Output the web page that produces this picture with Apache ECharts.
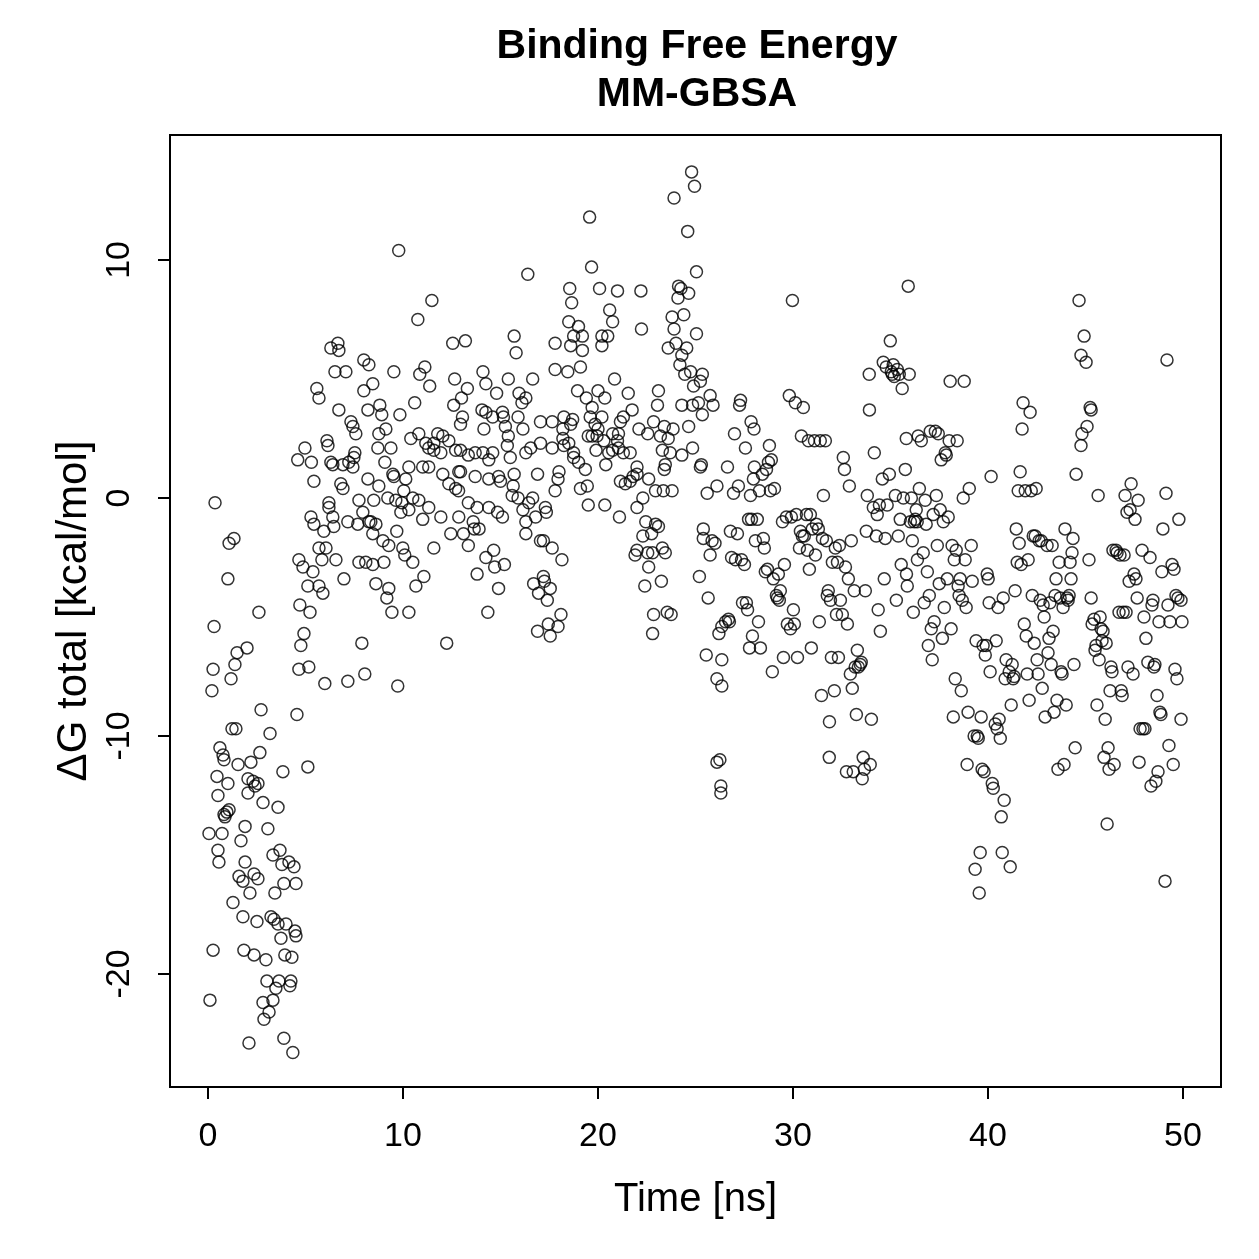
<!DOCTYPE html>
<html>
<head>
<meta charset="utf-8">
<script src="https://cdn.jsdelivr.net/npm/echarts@6/dist/echarts.min.js"></script>
<style>
  html, body { margin: 0; padding: 0; background: #fff; }
  #chart { width: 1259px; height: 1259px; }
</style>
</head>
<body>
<div id="chart"></div>
<script>
// tick positions (R style axes)
const xTicks = [0, 10, 20, 30, 40, 50];
const yTicks = [-20, -10, 0, 10];

// [time ns, dG total kcal/mol]
const seg00to05 = [[0.05,-14.1],[0.1,-21.1],[0.2,-8.1],[0.26,-7.2],[0.26,-19.0],[0.31,-5.4],[0.36,-0.2],[0.46,-11.7],[0.51,-12.5],[0.51,-14.8],[0.56,-15.3],[0.61,-10.5],[0.72,-14.1],[0.77,-10.8],[0.82,-11.0],[0.82,-13.3],[0.87,-13.4],[0.97,-13.2],[1.02,-3.4],[1.02,-12.0],[1.08,-1.9],[1.08,-13.1],[1.18,-7.6],[1.23,-9.7],[1.28,-17.0],[1.33,-1.7],[1.38,-7.0],[1.43,-9.7],[1.49,-6.5],[1.54,-11.2],[1.59,-15.9],[1.69,-14.4],[1.79,-16.1],[1.79,-17.6],[1.84,-19.0],[1.9,-13.8],[1.9,-15.3],[2.0,-6.3],[2.05,-11.8],[2.05,-12.4],[2.1,-22.9],[2.15,-16.6],[2.2,-11.1],[2.31,-11.9],[2.36,-15.8],[2.36,-19.2],[2.41,-12.1],[2.51,-17.8],[2.56,-12.0],[2.56,-16.0],[2.61,-4.8],[2.66,-10.7],[2.72,-8.9],[2.82,-12.8],[2.82,-21.2],[2.87,-21.9],[2.97,-19.4],[3.02,-20.3],[3.07,-13.9],[3.13,-21.6],[3.18,-9.9],[3.23,-17.6],[3.33,-15.0],[3.33,-21.1],[3.38,-17.7],[3.43,-16.6],[3.48,-20.6],[3.59,-13.0],[3.59,-17.9],[3.64,-20.3],[3.69,-14.8],[3.74,-18.5],[3.79,-15.4],[3.84,-11.5],[3.89,-16.2],[3.89,-22.7],[3.94,-19.2],[4.0,-17.9],[4.15,-15.3],[4.2,-20.5],[4.25,-20.3],[4.3,-19.3],[4.35,-23.3],[4.41,-15.5],[4.46,-18.2],[4.51,-16.2],[4.51,-18.4],[4.56,-9.1],[4.6,1.6],[4.66,-2.6],[4.66,-7.2],[4.71,-4.5],[4.76,-6.2],[4.87,-2.9],[4.92,-5.7],[4.97,2.1]];

const seg05to13 = [[5.12,-3.7],[5.12,-11.3],[5.17,-7.1],[5.23,-4.8],[5.28,-0.8],[5.3,1.5],[5.38,-3.1],[5.43,-1.1],[5.43,0.7],[5.58,4.6],[5.69,4.2],[5.69,-2.1],[5.69,-3.7],[5.84,-2.6],[5.89,-4.0],[5.94,-1.4],[5.99,-7.8],[6.05,-2.1],[6.1,2.4],[6.15,2.2],[6.2,-0.4],[6.2,-0.2],[6.3,6.3],[6.3,1.5],[6.4,-0.8],[6.4,1.4],[6.45,-1.2],[6.51,5.3],[6.56,-2.6],[6.66,6.5],[6.71,6.2],[6.71,3.7],[6.81,0.6],[6.92,0.4],[6.92,1.4],[6.97,-3.4],[7.07,5.3],[7.17,-7.7],[7.17,-1.0],[7.22,1.5],[7.33,3.2],[7.43,3.0],[7.43,1.3],[7.48,1.7],[7.53,1.9],[7.58,2.7],[7.68,-1.1],[7.74,-2.7],[7.74,-0.1],[7.89,-6.1],[7.94,-0.6],[7.99,5.8],[7.99,4.5],[8.04,-7.4],[8.09,-2.7],[8.2,0.8],[8.2,3.7],[8.25,5.6],[8.25,-1.0],[8.35,-1.0],[8.45,4.8],[8.45,-2.8],[8.45,-1.5],[8.5,-0.1],[8.61,-3.6],[8.61,-1.1],[8.71,2.1],[8.76,0.5],[8.76,2.7],[8.81,3.9],[8.91,3.5],[8.97,-1.8],[9.02,-2.7],[9.07,1.5],[9.12,2.9],[9.17,-4.2],[9.22,0.0],[9.27,-3.8],[9.27,-2.0],[9.38,2.1],[9.43,-4.8],[9.48,1.0],[9.53,0.9],[9.53,5.3],[9.63,-0.1],[9.68,-1.4],[9.73,-7.9],[9.78,10.4],[9.84,3.5],[9.89,-0.6],[9.94,-0.2],[9.99,-2.1],[10.04,0.3],[10.09,-2.4],[10.14,0.8],[10.3,1.3],[10.3,-0.5],[10.3,-4.8],[10.4,2.5],[10.5,0.0],[10.5,-2.7],[10.6,4.0],[10.66,-3.7],[10.76,7.5],[10.81,-0.1],[10.81,2.7],[10.86,5.2],[11.01,1.3],[11.01,-0.9],[11.07,-3.3],[11.12,5.5],[11.17,2.3],[11.32,2.1],[11.32,1.3],[11.32,-0.4],[11.37,4.7],[11.48,8.3],[11.58,-2.1],[11.58,2.3],[11.58,2.0],[11.78,2.7],[11.94,1.9],[11.94,-0.8],[12.04,1.0],[12.04,2.6],[12.24,-6.1],[12.35,0.6],[12.35,2.4],[12.45,-1.5],[12.55,6.5],[12.6,3.9],[12.65,5.0],[12.7,0.4],[12.7,2.0],[12.86,1.1],[12.86,-0.8]];

const seg13to26 = [[24.8,13.7],[24.95,13.1],[23.9,12.6],[19.57,11.8],[24.6,11.2],[16.4,9.4],[19.67,9.7],[25.05,9.5],[18.55,8.8],[20.08,8.8],[21.0,8.7],[22.2,8.7],[24.13,8.9],[24.25,8.8],[24.65,8.6],[24.1,8.4],[18.65,8.2],[20.6,7.9],[20.75,7.4],[18.5,7.4],[19.0,7.2],[22.23,7.1],[23.8,7.6],[24.4,7.7],[23.9,7.1],[25.05,6.9],[13.2,6.6],[15.7,6.8],[15.8,6.1],[17.8,6.5],[18.6,6.4],[19.2,6.8],[19.2,6.2],[18.75,6.8],[20.2,6.8],[20.5,6.8],[20.2,6.4],[23.6,6.3],[24.0,6.5],[24.55,6.3],[24.3,6.0],[24.2,5.6],[24.45,5.2],[24.75,5.3],[25.35,5.2],[25.25,4.9],[24.9,4.7],[17.8,5.4],[18.45,5.3],[19.1,5.5],[14.1,5.3],[14.25,4.8],[15.4,5.0],[16.65,5.0],[13.3,4.6],[13.0,4.2],[14.8,4.4],[15.95,4.4],[16.3,4.2],[16.1,4.0],[18.95,4.5],[19.4,4.2],[20.0,4.5],[20.35,4.2],[20.85,5.0],[21.55,4.4],[23.1,4.5],[23.05,3.9],[24.3,3.9],[24.85,3.9],[25.15,4.0],[25.75,4.3],[25.9,3.9],[25.35,3.5],[14.05,3.7],[14.25,3.6],[14.6,3.4],[15.1,3.6],[15.15,3.4],[15.9,3.4],[13.05,3.4],[12.95,3.1],[17.05,3.2],[17.65,3.2],[18.25,3.4],[18.7,3.3],[18.6,3.1],[19.7,3.8],[19.6,3.4],[20.2,3.4],[19.85,3.1],[21.3,3.4],[21.75,3.7],[21.15,3.2],[22.85,3.2],[23.4,3.0],[23.85,2.9],[24.65,3.0],[14.15,2.9],[15.25,3.0],[16.15,2.9],[15.4,2.6],[18.2,2.9],[18.2,2.5],[18.5,2.3],[19.7,2.6],[19.95,2.6],[20.0,2.9],[20.3,2.4],[20.75,2.7],[21.05,2.7],[21.0,2.4],[22.1,2.9],[22.55,2.7],[23.2,2.6],[23.6,2.5],[23.3,2.0],[23.7,1.9],[24.3,1.8],[24.85,2.1],[25.3,1.4],[12.95,2.0],[13.35,1.8],[13.7,1.9],[14.1,1.9],[14.6,1.9],[14.4,1.6],[15.35,2.2],[15.5,1.7],[16.55,2.1],[16.3,1.9],[17.05,2.3],[17.65,2.1],[18.25,2.2],[18.75,1.9],[18.75,1.7],[19.0,1.5],[19.5,2.6],[19.9,2.0],[20.55,1.9],[20.75,2.0],[21.05,2.1],[21.3,1.9],[21.65,1.9],[22.0,1.3],[23.45,1.4],[12.95,1.1],[13.7,0.9],[14.4,0.8],[14.9,0.9],[15.0,0.7],[15.7,1.0],[15.65,0.5],[16.9,1.0],[18.0,1.1],[17.95,0.8],[17.8,0.3],[19.35,1.2],[19.1,0.4],[19.45,0.5],[20.4,1.4],[12.85,0.3],[13.35,-0.2],[13.8,-0.4],[14.4,-0.4],[14.85,-0.6],[15.1,-0.8],[15.6,0.1],[15.9,0.0],[16.65,0.0],[16.45,-0.2],[16.15,-0.5],[16.8,-0.8],[17.3,-0.4],[17.35,-0.6],[13.6,-1.0],[13.65,-1.3],[13.9,-1.3],[13.1,-1.5],[13.35,-2.0],[16.3,-1.0],[16.3,-1.5],[14.65,-2.2],[14.25,-2.5],[15.2,-2.8],[14.7,-2.9],[13.8,-3.2],[14.9,-3.8],[14.35,-4.8],[17.05,-1.8],[17.2,-1.8],[17.65,-2.1],[18.15,-2.6],[16.7,-3.6],[17.2,-3.3],[17.25,-3.5],[17.55,-3.8],[16.95,-4.0],[17.4,-4.3],[18.1,-4.9],[17.45,-5.3],[17.95,-5.4],[16.9,-5.6],[17.55,-5.8],[19.5,-0.3],[20.35,-0.3],[21.1,-0.8],[21.15,0.7],[21.4,0.6],[21.65,0.7],[21.8,0.9],[22.0,1.0],[22.6,0.8],[22.95,0.3],[23.35,0.3],[23.8,0.3],[23.4,1.2],[22.3,0.0],[22.0,-0.4],[22.45,-1.0],[22.95,-1.1],[23.1,-1.2],[22.75,-1.5],[22.3,-1.6],[23.3,-2.1],[23.45,-2.3],[22.0,-2.2],[21.9,-2.4],[22.55,-2.3],[22.8,-2.3],[22.6,-2.9],[23.25,-3.5],[22.4,-3.7],[22.85,-4.9],[23.55,-4.8],[23.75,-4.9],[22.8,-5.7],[25.25,1.3],[26.1,0.5],[25.6,0.2],[25.4,-1.3],[25.85,-1.8],[26.0,-1.9],[25.75,-2.4],[25.4,-1.7],[25.2,-3.3],[25.65,-4.2],[26.2,-5.7],[26.35,-5.4],[25.55,-6.6],[26.35,-6.8],[26.1,-7.6],[26.35,-7.9],[26.25,-11.0],[26.1,-11.1],[26.3,-12.1],[26.3,-12.4]];

const seg26to38 = [[26.54,-5.2],[26.64,1.3],[26.69,-5.1],[26.74,-5.2],[26.79,-1.4],[26.85,-2.5],[26.95,0.2],[27.0,2.7],[27.05,-2.6],[27.15,-1.5],[27.2,0.5],[27.26,3.9],[27.31,4.1],[27.36,-2.6],[27.41,-4.4],[27.51,-2.8],[27.56,2.1],[27.61,-4.4],[27.67,-4.7],[27.72,-0.9],[27.77,-6.3],[27.82,0.1],[27.85,3.2],[27.87,-0.9],[27.92,-5.8],[27.97,0.8],[28.0,2.9],[28.02,1.3],[28.07,-1.8],[28.17,-0.9],[28.23,-5.2],[28.28,0.3],[28.33,-6.3],[28.43,1.0],[28.48,-1.7],[28.53,-2.1],[28.58,-3.1],[28.64,1.2],[28.69,-3.0],[28.74,1.5],[28.79,2.2],[28.84,0.3],[28.89,1.6],[28.94,-7.3],[28.99,-3.4],[29.05,0.4],[29.15,-4.1],[29.2,-4.2],[29.25,-3.2],[29.3,-4.3],[29.35,-3.9],[29.46,-1.0],[29.51,-6.7],[29.56,-2.8],[29.66,-0.8],[29.71,-5.3],[29.81,4.3],[29.87,-5.5],[29.92,-0.8],[29.97,8.3],[30.02,-4.7],[30.07,-5.3],[30.12,4.0],[30.17,-0.7],[30.23,-6.7],[30.33,-2.1],[30.38,-1.4],[30.43,2.6],[30.48,-1.6],[30.53,3.8],[30.58,-1.6],[30.69,-0.7],[30.74,-2.2],[30.79,2.4],[30.84,-3.0],[30.89,-0.7],[30.94,-6.3],[30.99,-1.3],[31.1,2.4],[31.15,-2.4],[31.2,-1.1],[31.3,-1.3],[31.35,-5.2],[31.4,2.4],[31.46,-8.3],[31.51,-1.7],[31.56,0.1],[31.66,2.4],[31.71,-1.8],[31.76,-4.1],[31.81,-3.9],[31.86,-10.9],[31.87,-9.4],[31.92,-4.3],[31.97,-6.7],[32.02,-2.7],[32.12,-8.1],[32.17,-2.1],[32.23,-4.9],[32.28,-2.7],[32.33,-6.7],[32.38,-2.0],[32.43,-4.3],[32.53,-4.9],[32.58,1.7],[32.64,1.2],[32.69,-2.9],[32.74,-11.5],[32.79,-5.3],[32.84,-3.4],[32.89,0.5],[32.94,-7.4],[32.99,-1.8],[33.04,-8.0],[33.09,-11.5],[33.14,-3.9],[33.19,-7.1],[33.25,-9.1],[33.3,-6.4],[33.35,-7.1],[33.45,-7.0],[33.5,-6.9],[33.55,-11.8],[33.6,-10.9],[33.66,-11.4],[33.71,-3.9],[33.76,-1.4],[33.81,0.1],[33.91,5.2],[33.92,3.7],[33.96,-11.2],[34.02,-9.3],[34.12,-0.4],[34.17,1.9],[34.27,-1.6],[34.32,-0.7],[34.37,-4.7],[34.43,-0.3],[34.48,-5.6],[34.58,0.8],[34.63,5.7],[34.68,-3.4],[34.73,-1.7],[34.78,5.5],[34.83,-0.3],[34.94,1.0],[34.99,6.6],[35.04,5.3],[35.09,5.2],[35.14,5.6],[35.19,5.1],[35.25,0.1],[35.3,-4.3],[35.35,5.4],[35.4,-1.6],[35.45,5.2],[35.5,-0.9],[35.55,-2.8],[35.6,4.6],[35.66,0.0],[35.76,1.2],[35.81,2.5],[35.82,-3.2],[35.86,-3.7],[35.91,8.9],[35.96,5.2],[36.02,-1.0],[36.07,0.0],[36.12,-1.8],[36.17,-4.8],[36.22,-1.0],[36.27,-0.9],[36.32,-0.5],[36.37,-1.0],[36.38,-2.6],[36.42,2.6],[36.48,0.4],[36.58,2.4],[36.68,-2.3],[36.73,-4.4],[36.78,-0.1],[36.83,-1.1],[36.89,-3.1],[36.94,-6.2],[36.99,-4.1],[37.04,2.8],[37.09,-5.5],[37.14,-6.8],[37.19,-0.7],[37.24,-5.2],[37.3,2.8],[37.35,0.1],[37.4,-2.0],[37.45,2.7],[37.5,-3.6],[37.55,-0.5],[37.6,1.6],[37.66,-5.9],[37.71,-1.0],[37.76,-4.6],[37.81,1.9],[37.86,1.8],[37.91,-3.4],[37.96,-0.8]];

const seg38to50 = [[38.01,2.4],[38.06,4.9],[38.11,-5.5],[38.16,-2.0],[38.22,-9.2],[38.27,-2.6],[38.32,-7.6],[38.37,-2.2],[38.42,2.4],[38.47,-3.7],[38.52,-4.1],[38.57,-3.4],[38.63,-8.1],[38.68,-4.3],[38.73,0.0],[38.78,4.9],[38.83,-2.6],[38.88,-4.6],[38.93,-11.2],[38.98,-9.0],[39.04,0.4],[39.14,-2.0],[39.19,-3.5],[39.29,-10.0],[39.34,-15.6],[39.39,-6.0],[39.45,-10.0],[39.5,-10.1],[39.55,-16.6],[39.6,-14.9],[39.65,-9.2],[39.7,-11.4],[39.75,-6.2],[39.8,-11.5],[39.86,-6.6],[39.91,-6.2],[39.96,-3.2],[40.01,-3.4],[40.06,-4.4],[40.11,-7.3],[40.16,0.9],[40.22,-12.0],[40.27,-12.2],[40.37,-9.5],[40.42,-6.0],[40.47,-9.7],[40.52,-4.6],[40.57,-9.3],[40.63,-10.1],[40.68,-13.4],[40.73,-14.9],[40.78,-4.2],[40.83,-12.7],[40.88,-7.6],[40.93,-6.8],[41.09,-7.3],[41.14,-15.5],[41.19,-8.7],[41.24,-7.0],[41.29,-7.6],[41.34,-7.5],[41.39,-3.9],[41.45,-1.3],[41.5,-2.7],[41.55,0.3],[41.6,-1.9],[41.65,1.1],[41.7,-2.8],[41.75,2.9],[41.8,4.0],[41.86,-5.3],[41.91,0.3],[41.96,-5.8],[42.01,-7.4],[42.06,-2.6],[42.11,-8.5],[42.16,3.6],[42.22,0.3],[42.27,-4.1],[42.32,-1.6],[42.37,-6.1],[42.42,-1.6],[42.47,0.4],[42.52,-6.8],[42.57,-7.4],[42.62,-1.8],[42.68,-4.3],[42.73,-1.8],[42.78,-8.0],[42.83,-4.5],[42.88,-5.0],[42.93,-9.2],[43.03,-2.0],[43.08,-6.5],[43.13,-5.9],[43.18,-4.4],[43.24,-7.0],[43.29,-2.0],[43.34,-5.6],[43.39,-9.0],[43.44,-4.1],[43.49,-3.4],[43.54,-8.5],[43.59,-11.4],[43.65,-2.7],[43.7,-4.2],[43.75,-7.3],[43.8,-7.4],[43.85,-4.6],[43.9,-11.2],[43.95,-1.3],[44.01,-8.7],[44.06,-4.2],[44.11,-4.3],[44.16,-4.1],[44.21,-2.7],[44.26,-3.4],[44.31,-2.3],[44.36,-1.7],[44.41,-7.0],[44.47,-10.5],[44.52,1.0],[44.67,8.3],[44.93,6.8],[44.77,6.0],[45.03,5.7],[45.24,3.8],[45.29,3.7],[45.08,3.0],[44.82,2.7],[44.77,2.2],[45.18,-2.6],[45.29,-4.2],[45.34,-5.3],[45.44,-5.1],[45.49,-6.4],[45.54,-6.2],[45.59,-8.7],[45.65,0.1],[45.7,-6.8],[45.75,-5.0],[45.8,-5.5],[45.85,-6.0],[45.9,-5.6],[45.95,-10.9],[46.01,-9.3],[46.06,-6.1],[46.11,-13.7],[46.16,-10.5],[46.21,-11.4],[46.26,-8.1],[46.31,-7.1],[46.36,-7.3],[46.41,-2.2],[46.47,-11.2],[46.57,-2.2],[46.62,-2.3],[46.72,-4.8],[46.77,-2.4],[46.83,-8.1],[46.88,-8.3],[46.93,-4.8],[46.98,-2.4],[47.03,0.1],[47.08,-4.8],[47.13,-0.6],[47.18,-7.1],[47.24,-3.5],[47.29,-0.5],[47.34,0.6],[47.44,-7.4],[47.49,-3.2],[47.54,-0.9],[47.59,-3.4],[47.65,-4.2],[47.7,-0.1],[47.75,-11.1],[47.8,-9.7],[47.9,-2.2],[47.95,-9.7],[48.0,-5.0],[48.05,-9.7],[48.1,-5.9],[48.2,-6.9],[48.31,-2.5],[48.36,-12.1],[48.41,-4.5],[48.46,-4.3],[48.51,-7.1],[48.56,-7.0],[48.61,-11.9],[48.67,-8.3],[48.72,-11.5],[48.77,-5.2],[48.82,-9.0],[48.87,-9.1],[48.92,-3.1],[48.97,-1.3],[49.08,-16.1],[49.13,0.2],[49.18,5.8],[49.23,-4.5],[49.28,-10.4],[49.33,-5.2],[49.44,-2.8],[49.5,-11.2],[49.54,-3.0],[49.59,-7.2],[49.64,-4.1],[49.69,-7.6],[49.74,-4.2],[49.79,-0.9],[49.9,-9.3],[49.95,-5.2],[49.9,-4.3]];

const points = [].concat(seg00to05, seg05to13, seg13to26, seg26to38, seg38to50);

const font = '"Liberation Sans", Arial, Helvetica, sans-serif';
const chart = echarts.init(document.getElementById('chart'), null, { renderer: 'canvas' });

chart.setOption({
  animation: false,
  backgroundColor: '#ffffff',
  graphic: [
    { type: 'text', x: 697, y: 47, style: { text: 'Binding Free Energy', font: 'bold 41px ' + font, fill: '#000', align: 'center', verticalAlign: 'middle' } },
    { type: 'text', x: 697, y: 95, style: { text: 'MM-GBSA', font: 'bold 41px ' + font, fill: '#000', align: 'center', verticalAlign: 'middle' } }
  ],
  grid: {
    left: 170, top: 135, width: 1051, height: 952,
    show: true, borderColor: '#000', borderWidth: 2, backgroundColor: 'transparent'
  },
  xAxis: {
    type: 'value',
    min: -1.95, max: 51.95,
    name: 'Time [ns]',
    nameLocation: 'middle',
    nameGap: 93,
    nameTextStyle: { fontFamily: font, fontSize: 40, color: '#000' },
    axisLine: { show: false, onZero: false },
    splitLine: { show: false },
    axisTick: { show: true, inside: false, length: 12, customValues: xTicks, lineStyle: { color: '#000', width: 2 } },
    axisLabel: { customValues: xTicks, margin: 33, fontFamily: font, fontSize: 34, color: '#000' }
  },
  yAxis: {
    type: 'value',
    min: -24.75, max: 15.25,
    name: 'ΔG total [kcal/mol]',
    nameLocation: 'middle',
    nameRotate: 90,
    nameGap: 73,
    nameTextStyle: { fontFamily: font, fontSize: 42, color: '#000' },
    axisLine: { show: false, onZero: false },
    splitLine: { show: false },
    axisTick: { show: true, inside: false, length: 12, customValues: yTicks, lineStyle: { color: '#000', width: 2 } },
    axisLabel: { customValues: yTicks, rotate: 90, margin: 33, fontFamily: font, fontSize: 34, color: '#000' }
  },
  series: [{
    type: 'scatter',
    data: points,
    symbol: 'circle',
    symbolSize: 12,
    silent: true,
    itemStyle: { color: 'rgba(0,0,0,0)', borderColor: '#000', borderWidth: 1.5 }
  }]
});
</script>
</body>
</html>
